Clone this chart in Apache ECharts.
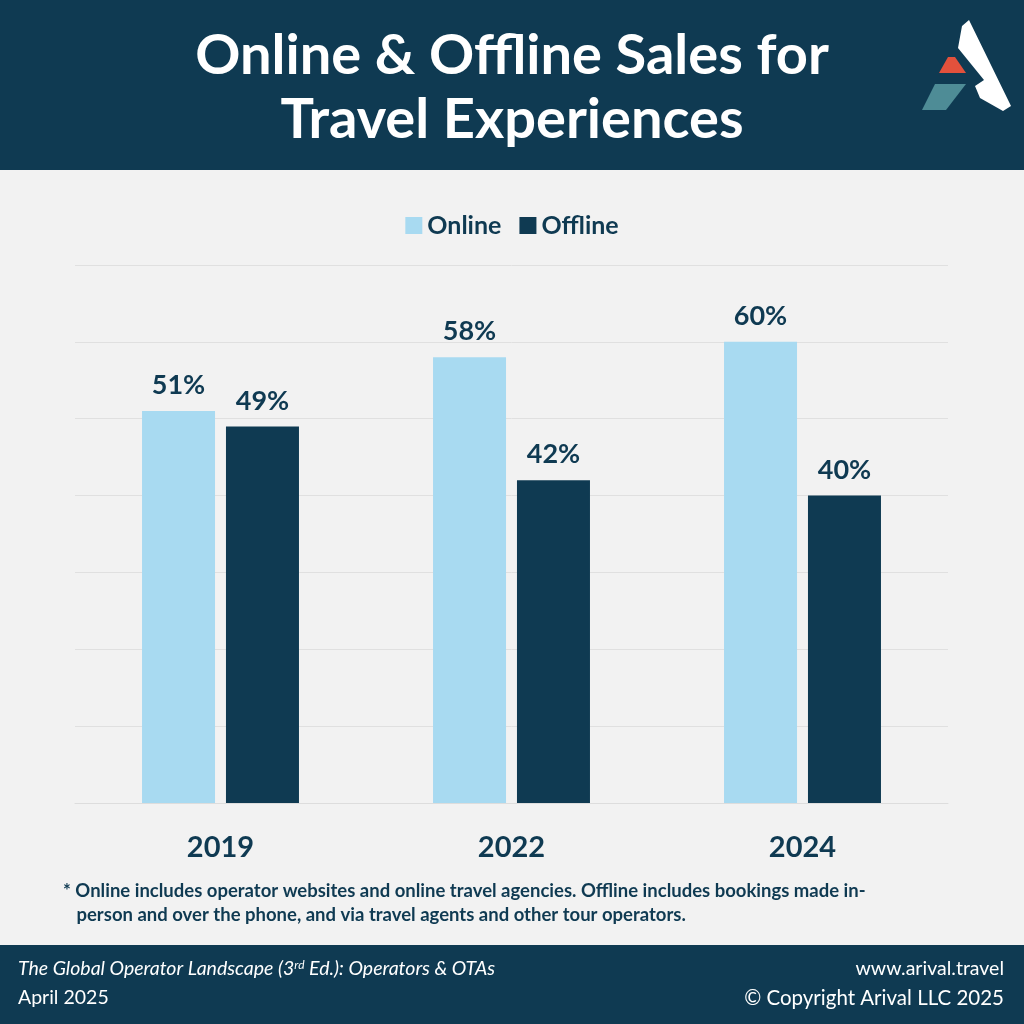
<!DOCTYPE html>
<html><head><meta charset="utf-8">
<script src="https://cdn.jsdelivr.net/npm/echarts@6/dist/echarts.min.js"></script>
<style>html,body{margin:0;padding:0;background:#f2f2f2}#c{width:1024px;height:1024px}</style>
</head><body><div id="c"></div>
<script>
const categories = ['2019','2022','2024'];
const online = [51,58,60];
const offline = [49,42,40];
const navy = '#0f3a52';
const chart = echarts.init(document.getElementById('c'));
const F = 'Lato, "Open Sans", sans-serif';
chart.setOption({
  backgroundColor:'#f2f2f2',
  textStyle:{fontFamily:F},
  legend:{top:208,left:'center',itemWidth:17,itemHeight:17,itemGap:18,icon:'rect',
    textStyle:{fontSize:25,fontWeight:'bold',color:navy,fontFamily:F}},
  grid:{left:75,right:76,top:265,bottom:221},
  xAxis:{type:'category',data:categories,axisTick:{show:false},
    axisLine:{lineStyle:{color:'#dddddd'}},
    axisLabel:{fontSize:29,fontWeight:'bold',color:navy,margin:30,fontFamily:F}},
  yAxis:{type:'value',min:0,max:70,interval:10,axisLabel:{show:false},
    splitLine:{lineStyle:{color:'#e0e0e0'}}},
  series:[
    {name:'Online',type:'bar',data:online,barWidth:73,barGap:'15%',itemStyle:{color:'#a8daf1'},
     label:{show:true,position:'top',formatter:'{c}%',fontSize:27,fontWeight:'bold',color:navy,distance:12,fontFamily:F}},
    {name:'Offline',type:'bar',data:offline,barWidth:73,itemStyle:{color:navy},
     label:{show:true,position:'top',formatter:'{c}%',fontSize:27,fontWeight:'bold',color:navy,distance:12,fontFamily:F}}
  ],
  graphic:[
    {type:'rect',shape:{x:0,y:0,width:1024,height:170},style:{fill:navy},z:-1},
    {type:'text',left:'center',top:24,style:{text:'Online & Offline Sales for\nTravel Experiences',fill:'#fff',
      font:'bold 56px '+F,textAlign:'center',lineHeight:64}},
    {type:'polygon',shape:{points:[[962,26],[969,20],[1011,106],[1003,111],[980,98],[975,86],[984,80],[958,48]]},style:{fill:'#fff'}},
    {type:'polygon',shape:{points:[[948,57],[955,57],[966,73],[939,73]]},style:{fill:'#e2513c'}},
    {type:'polygon',shape:{points:[[935,84],[966,84],[946,110],[922,110]]},style:{fill:'#4e8c96'}},
    {type:'text',left:63,top:879,style:{text:'* Online includes operator websites and online travel agencies. Offline includes bookings made in-\n   person and over the phone, and via travel agents and other tour operators.',
      fill:navy,font:'bold 18.5px '+F,lineHeight:24}},
    {type:'rect',shape:{x:0,y:945,width:1024,height:79},style:{fill:navy}},
    {type:'text',left:18,top:959,style:{text:'{i|The Global Operator Landscape (3}{s|rd}{i| Ed.): Operators & OTAs}',
      rich:{i:{fill:'#fff',font:'italic 19.5px '+F},s:{fill:'#fff',font:'italic 12px '+F,verticalAlign:'top',padding:[0,0,8,0]}}}},
    {type:'text',left:18,top:988,style:{text:'April 2025',fill:'#fff',font:'19.5px '+F}},
    {type:'text',right:20,top:959,style:{text:'www.arival.travel',fill:'#fff',font:'19.5px '+F,textAlign:'right'}},
    {type:'text',right:20,top:988,style:{text:'© Copyright Arival LLC 2025',fill:'#fff',font:'20.5px '+F,textAlign:'right'}}
  ]
});
</script></body></html>
